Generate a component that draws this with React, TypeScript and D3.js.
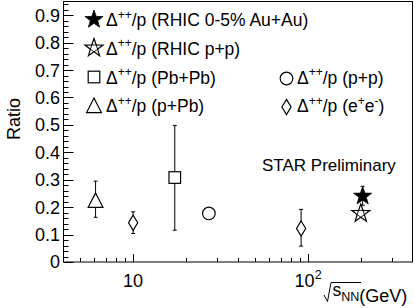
import React from "react";
import * as d3 from "d3";

// ---- data ----
type Pt = { s: number; r: number; lo: number; hi: number };
const auAu: Pt[] = [{ s: 205, r: 0.24, lo: 0.207, hi: 0.276 }];
const rhicPP: Pt[] = [{ s: 200, r: 0.177, lo: 0.17, hi: 0.185 }];
const pbPb: Pt[] = [{ s: 17.3, r: 0.308, lo: 0.116, hi: 0.498 }];
const pPb: Pt[] = [{ s: 6.1, r: 0.225, lo: 0.163, hi: 0.295 }];
const pp: Pt[] = [{ s: 27.1, r: 0.177, lo: 0.177, hi: 0.177 }];
const ee: Pt[] = [
  { s: 10, r: 0.143, lo: 0.104, hi: 0.183 },
  { s: 91.2, r: 0.122, lo: 0.058, hi: 0.192 },
];
const yTickLabels = ["0", "0.1", "0.2", "0.3", "0.4", "0.5", "0.6", "0.7", "0.8", "0.9"];
const legendLeft = [
  { marker: "fstar", label: "(RHIC 0-5% Au+Au)" },
  { marker: "ostar", label: "(RHIC p+p)" },
  { marker: "square", label: "(Pb+Pb)" },
  { marker: "triangle", label: "(p+Pb)" },
];
const legendRight = [
  { marker: "circle", label: "(p+p)" },
  { marker: "diamond", label: "ee" },
];

const W = 414, H = 308;
const M = { left: 63.5, right: 412.5, top: 1.5, bottom: 262 };
const FONT = "'Liberation Sans', Arial, Helvetica, sans-serif";

const x = d3.scaleLog().domain([4, 395]).range([M.left, M.right]);
const y = d3.scaleLinear().domain([0, 0.95]).range([M.bottom, M.top]);

function starPath(cx: number, cy: number, R: number) {
  const r = R * 0.4;
  const pts: [number, number][] = [];
  for (let i = 0; i < 10; i++) {
    const a = -Math.PI / 2 + (i * Math.PI) / 5;
    const rr = i % 2 === 0 ? R : r;
    pts.push([cx + rr * Math.cos(a), cy + rr * Math.sin(a)]);
  }
  return d3.line()(pts)! + "Z";
}

function Marker({ kind, cx, cy, scale = 1 }: { kind: string; cx: number; cy: number; scale?: number }) {
  const sw = 1.2;
  switch (kind) {
    case "fstar":
      return <path d={starPath(cx, cy, 9.5 * scale)} fill="#000" stroke="#000" strokeWidth={0.8} />;
    case "ostar":
      return (
        <g>
          <path d={starPath(cx, cy, 9.5 * scale)} fill="#fff" stroke="#000" strokeWidth={sw} />
          <path d={(() => {
            const R = 9.5 * scale * 0.4;
            const pts: [number, number][] = [];
            for (let i = 0; i < 5; i++) {
              const a = Math.PI / 2 + (i * 2 * Math.PI) / 5;
              pts.push([cx + R * Math.cos(a), cy + R * Math.sin(a)]);
            }
            return d3.line()(pts)! + "Z";
          })()} fill="none" stroke="#000" strokeWidth={0.9} />
        </g>
      );
    case "square": {
      const h = 5.8 * scale;
      return <rect x={cx - h} y={cy - h} width={2 * h} height={2 * h} fill="#fff" stroke="#000" strokeWidth={sw} />;
    }
    case "triangle": {
      const h = 7.4 * scale;
      const pts: [number, number][] = [[cx, cy - h], [cx + h, cy + h * 0.95], [cx - h, cy + h * 0.95]];
      return <path d={d3.line()(pts)! + "Z"} fill="#fff" stroke="#000" strokeWidth={sw} />;
    }
    case "circle":
      return <circle cx={cx} cy={cy} r={6.3 * scale} fill="#fff" stroke="#000" strokeWidth={sw} />;
    case "diamond": {
      const w = 4.6 * scale, h = 7.6 * scale;
      const pts: [number, number][] = [[cx, cy - h], [cx + w, cy], [cx, cy + h], [cx - w, cy]];
      return <path d={d3.line()(pts)! + "Z"} fill="#fff" stroke="#000" strokeWidth={sw} />;
    }
  }
  return null;
}

function Points({ data, kind }: { data: Pt[]; kind: string }) {
  return (
    <g>
      {data.map((d, i) => {
        const cx = x(d.s);
        return (
          <g key={i}>
            {d.hi > d.lo && (
              <g stroke="#000" strokeWidth={1}>
                <line x1={cx} x2={cx} y1={y(d.hi)} y2={y(d.lo)} />
                <line x1={cx - 2} x2={cx + 2} y1={y(d.hi)} y2={y(d.hi)} />
                <line x1={cx - 2} x2={cx + 2} y1={y(d.lo)} y2={y(d.lo)} />
              </g>
            )}
            <Marker kind={kind} cx={cx} cy={y(d.r)} />
          </g>
        );
      })}
    </g>
  );
}

function DeltaLabel({ x0, y0, label }: { x0: number; y0: number; label: string }) {
  return (
    <text x={x0} y={y0} fontFamily={FONT} fontSize={17.5} fill="#000">
      Δ
      <tspan fontSize={12} dy={-7.5}>++</tspan>
      <tspan dy={7.5}>/p </tspan>
      {label === "ee" ? (
        <>
          <tspan>(e</tspan>
          <tspan fontSize={12} dy={-7.5}>+</tspan>
          <tspan dy={7.5}>e</tspan>
          <tspan fontSize={12} dy={-7.5}>-</tspan>
          <tspan dy={7.5}>)</tspan>
        </>
      ) : (
        <tspan>{label}</tspan>
      )}
    </text>
  );
}

export default function App() {
  const xt = x.ticks();
  const isMajorX = (v: number) => Math.abs(Math.log10(v) - Math.round(Math.log10(v))) < 1e-6;
  const yt = d3.range(0, 0.951, 0.02);
  const rowY = [19.5, 48, 77, 105.5];

  return (
    <svg width={W} height={H} style={{ display: "block", position: "absolute", left: 0, top: 0 }}>
      <rect width={W} height={H} fill="#fff" />
      {/* frame */}
      <rect x={M.left} y={M.top} width={M.right - M.left} height={M.bottom - M.top} fill="none" stroke="#000" strokeWidth={1} />

      {/* y ticks */}
      <g stroke="#000" strokeWidth={1}>
        {yt.map((v, i) => {
          const major = i % 5 === 0;
          return <line key={i} x1={M.left} x2={M.left + (major ? 10 : 5)} y1={Math.round(y(v)) + 0.5} y2={Math.round(y(v)) + 0.5} />;
        })}
      </g>
      {yTickLabels.map((t, i) => (
        <text key={t} x={60} y={y(i * 0.1)} dy="0.36em" textAnchor="end" fontFamily={FONT} fontSize={18}>{t}</text>
      ))}

      {/* x ticks */}
      <g stroke="#000" strokeWidth={1}>
        {xt.filter((v) => x(v) > M.left + 1 && x(v) < M.right - 1).map((v, i) => {
          const major = isMajorX(v);
          return <line key={i} x1={Math.round(x(v)) + 0.5} x2={Math.round(x(v)) + 0.5} y1={M.bottom} y2={M.bottom - (major ? 8 : 4)} />;
        })}
      </g>
      <text x={x(10)} y={287} textAnchor="middle" fontFamily={FONT} fontSize={18}>10</text>
      <text x={x(100)} y={287} textAnchor="middle" fontFamily={FONT} fontSize={18}>
        10<tspan fontSize={12.5} dy={-8}>2</tspan>
      </text>

      {/* x title */}
      <path d="M324,295 L327.5,301.5 L331,282.5 L361,282.5" fill="none" stroke="#000" strokeWidth={1} />
      <text x={332.5} y={295.5} fontFamily={FONT} fontSize={17.5}>
        s<tspan fontSize={12.5} dy={5}>NN</tspan>
        <tspan fontSize={18} dy={1}>(GeV)</tspan>
      </text>

      {/* y title */}
      <text transform="translate(20,119) rotate(-90)" textAnchor="middle" fontFamily={FONT} fontSize={18}>Ratio</text>

      {/* legend */}
      {legendLeft.map((e, i) => (
        <g key={e.marker}>
          <Marker kind={e.marker} cx={94} cy={rowY[i]} />
          <DeltaLabel x0={106} y0={rowY[i] + 6.5} label={e.label} />
        </g>
      ))}
      {legendRight.map((e, i) => (
        <g key={e.marker}>
          <Marker kind={e.marker} cx={286.5} cy={rowY[i + 2] + 1.5} />
          <DeltaLabel x0={297} y0={rowY[i + 2] + 6.5} label={e.label} />
        </g>
      ))}

      <text x={262} y={171} fontFamily={FONT} fontSize={17}>STAR Preliminary</text>

      {/* data */}
      <Points data={pPb} kind="triangle" />
      <Points data={ee} kind="diamond" />
      <Points data={pbPb} kind="square" />
      <Points data={pp} kind="circle" />
      <Points data={rhicPP} kind="ostar" />
      <Points data={auAu} kind="fstar" />
    </svg>
  );
}
